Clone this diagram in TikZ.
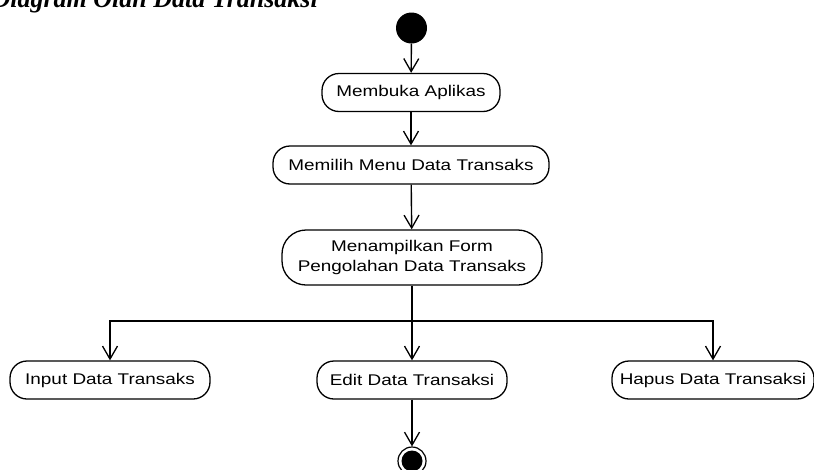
\documentclass[tikz,border=0pt]{standalone}
\usepackage{fontspec}
\setmainfont{Liberation Sans}
\newfontfamily\diagfont[FakeStretch=1.22]{Liberation Sans}
\newfontfamily\titlefont{Liberation Serif}
\usetikzlibrary{arrows.meta}
\begin{document}
\begin{tikzpicture}[x=1pt,y=-1pt,
  act/.style={draw, line width=1.3pt, rounded corners=17pt, minimum height=38pt, inner sep=0pt, align=center, font=\diagfont\fontsize{15.5}{20}\selectfont},
  flow/.style={line width=1.4pt, -{Straight Barb[length=13pt,width=15pt,line width=1.3pt]}},
  plain/.style={line width=1.4pt}]
\useasboundingbox (0,0) rectangle (814,469);
\node[anchor=base east, inner sep=0pt, font=\titlefont\bfseries\itshape\fontsize{26}{30}\selectfont] (title) at (318,7) {Diagram Olah Data Transaksi};
\node[circle, fill=black, minimum size=31pt, inner sep=0pt] (start) at (411.5,28) {};
\node[act, minimum width=178pt] (a1) at (411,92.5) {Membuka Aplikas};
\node[act, minimum width=276pt] (a2) at (411,165) {Memilih Menu Data Transaks};
\node[act, minimum width=260pt, minimum height=55pt, rounded corners=24pt] (a3) at (412,257.5) {Menampilkan Form\\Pengolahan Data Transaks};
\node[act, minimum width=200pt] (b1) at (110,380) {Input Data Transaks};
\node[act, minimum width=190pt] (b2) at (412,380) {Edit Data Transaksi};
\node[act, minimum width=202pt] (b3) at (713,380) {Hapus Data Transaksi};
\node[circle, draw, line width=1.2pt, minimum size=28pt, inner sep=0pt,
  path picture={\fill[black] (path picture bounding box.center) circle[radius=10.5pt];}] (end) at (412,461) {};
\coordinate (j) at (412,321);
\draw[flow] (start) -- (a1);
\draw[flow] (a1) -- (a2);
\draw[flow] (a2) -- (a3);
\draw[plain] (a3.south) -- (j);
\draw[flow] (j) -| (b1.north);
\draw[flow] (j) -- (b2.north);
\draw[flow] (j) -| (b3.north);
\draw[flow] (b2) -- (end);
\end{tikzpicture}
\end{document}
